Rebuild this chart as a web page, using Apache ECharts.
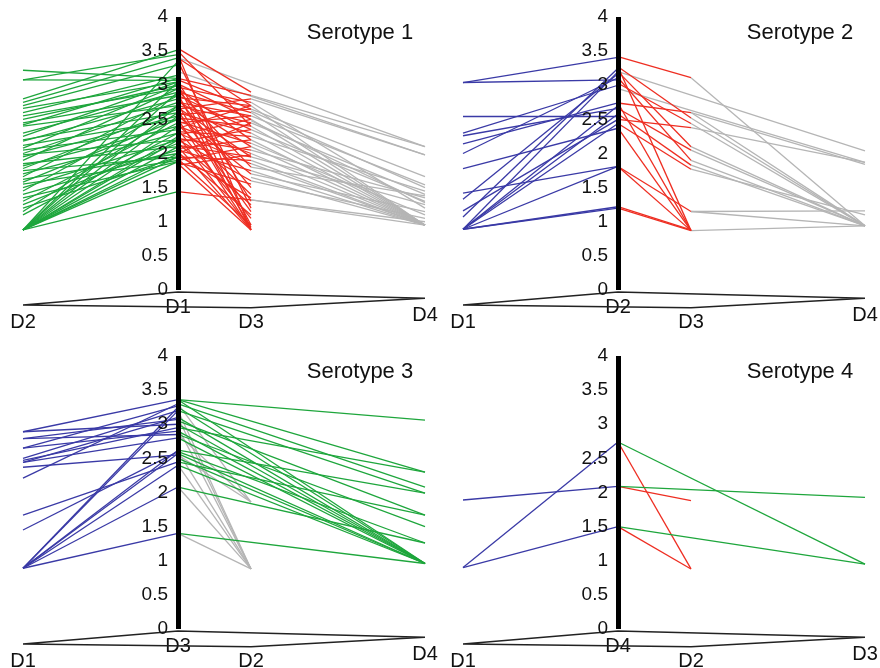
<!DOCTYPE html>
<html>
<head>
<meta charset="utf-8">
<script src="https://cdn.jsdelivr.net/npm/echarts@6/dist/echarts.min.js"></script>
<style>
  html, body { margin: 0; padding: 0; background: #fff; }
  #chart { width: 880px; height: 668px; }
</style>
</head>
<body>
<div id="chart"></div>
<script>
// Segment data: each pair is [value at start node, value at end node]
// Serotype 1
const s1Green = [[3.22, 3.10], [3.08, 3.07], [3.08, 3.45], [2.80, 3.52], [2.75, 3.40], [2.70, 3.30], [2.66, 3.05],
  [2.60, 3.15], [2.55, 2.95], [2.50, 3.00], [2.45, 2.85], [2.42, 3.10], [2.40, 2.70], [2.30, 2.90], [2.25, 3.05],
  [2.20, 2.60], [2.18, 2.80], [2.12, 2.50], [2.08, 3.00], [2.05, 2.35], [2.00, 2.75], [1.98, 2.20], [1.95, 2.55],
  [1.90, 2.95], [1.85, 2.10], [1.82, 2.40], [1.78, 2.65], [1.75, 1.95], [1.70, 2.30], [1.66, 2.85], [1.62, 2.00],
  [1.58, 2.50], [1.55, 1.90], [1.50, 2.20], [1.45, 2.70], [1.40, 2.05], [1.35, 1.88], [1.30, 2.45], [1.25, 2.15],
  [1.20, 1.95], [1.15, 2.60], [1.10, 2.30], [0.88, 1.44], [0.88, 1.88], [0.88, 2.00], [0.88, 2.10], [0.88, 2.25],
  [0.88, 2.40], [0.88, 2.55], [0.88, 2.70], [0.88, 2.90], [0.88, 3.05], [0.88, 3.35], [0.88, 1.95], [0.88, 2.20]]
const s1Red = [[3.54, 2.90], [3.50, 2.40], [3.45, 0.88], [3.40, 2.70], [3.35, 1.20], [3.10, 2.85], [3.08, 2.65],
  [3.05, 1.30], [3.02, 2.50], [3.00, 0.95], [2.97, 2.75], [2.95, 2.20], [2.92, 1.80], [2.90, 2.60], [2.87, 0.88],
  [2.85, 2.35], [2.82, 2.70], [2.80, 1.50], [2.77, 2.10], [2.75, 2.55], [2.72, 0.92], [2.70, 2.45], [2.67, 1.95],
  [2.65, 2.80], [2.62, 1.15], [2.60, 2.30], [2.57, 2.65], [2.55, 1.70], [2.52, 2.40], [2.50, 0.88], [2.47, 2.15],
  [2.45, 2.55], [2.42, 1.40], [2.40, 2.00], [2.37, 2.70], [2.35, 1.05], [2.32, 2.25], [2.30, 1.85], [2.27, 2.50],
  [2.25, 0.90], [2.22, 2.05], [2.20, 1.60], [2.17, 2.35], [2.15, 1.25], [2.12, 1.95], [2.10, 0.88], [2.07, 2.20],
  [2.05, 1.75], [2.02, 1.10], [2.00, 2.45], [1.97, 1.35], [1.95, 1.90], [1.92, 0.95], [1.90, 2.10], [1.87, 1.55],
  [1.85, 0.88], [1.83, 1.98], [1.44, 1.32]]
const s1Gray = [[2.85, 2.10], [2.80, 1.98], [2.75, 1.20], [2.70, 0.95], [2.65, 1.66], [2.60, 0.95], [2.55, 1.54],
  [2.50, 0.95], [2.45, 1.40], [2.40, 0.95], [2.35, 1.30], [2.30, 0.95], [2.25, 1.45], [2.20, 0.95], [2.15, 1.10],
  [2.10, 0.95], [2.05, 1.35], [2.00, 0.95], [1.95, 1.25], [1.90, 0.95], [1.85, 0.95], [1.80, 1.38], [1.75, 0.95],
  [1.70, 1.15], [1.65, 0.95], [1.60, 1.05], [1.32, 1.00], [1.32, 0.95], [2.62, 1.50], [2.48, 1.28]]
const s1GrayAxis = [[3.40, 2.10], [3.20, 1.98]]

// Serotype 2
const s2Blue = [[3.04, 3.41], [3.04, 3.08], [2.54, 2.54], [2.30, 3.00], [2.26, 2.66], [2.14, 2.74], [2.00, 3.11],
  [1.78, 2.37], [1.42, 1.81], [1.33, 3.17], [1.16, 2.50], [1.07, 3.25], [0.89, 3.20], [0.89, 2.58], [0.89, 2.44],
  [0.89, 1.81], [0.89, 1.20], [0.89, 1.22], [0.89, 2.70]]
const s2Red = [[3.42, 3.11], [3.27, 2.52], [3.27, 0.87], [3.20, 2.10], [3.11, 1.90], [3.03, 2.44], [2.74, 2.60],
  [2.74, 0.87], [2.66, 2.05], [2.58, 1.83], [2.50, 2.38], [2.44, 1.77], [2.37, 0.87], [1.81, 0.87], [1.81, 1.15],
  [1.20, 0.87], [1.22, 0.88]]
const s2Gray = [[3.11, 0.94], [2.60, 1.84], [2.52, 0.94], [2.44, 0.94], [2.38, 1.87], [2.10, 0.94], [2.05, 0.94],
  [1.90, 0.94], [1.83, 0.94], [1.77, 1.10], [1.15, 1.16], [1.15, 0.94], [0.87, 0.94], [2.60, 0.94]]
const s2GrayAxis = [[3.20, 2.04], [2.95, 1.87]]

// Serotype 3
const s3Blue = [[2.89, 3.00], [2.89, 3.36], [2.79, 3.07], [2.79, 2.85], [2.65, 3.27], [2.65, 2.90], [2.50, 3.20],
  [2.47, 2.95], [2.44, 3.10], [2.44, 2.80], [2.37, 2.55], [2.21, 3.30], [1.67, 2.45], [1.45, 2.60], [0.89, 3.25],
  [0.89, 3.20], [0.89, 2.62], [0.89, 2.57], [0.89, 2.08], [0.89, 1.40], [0.89, 2.40]]
const s3Gray = [[3.30, 1.86], [3.10, 0.88], [2.95, 0.88], [2.85, 1.86], [2.60, 0.88], [2.55, 1.86], [2.40, 0.88],
  [2.08, 0.88], [1.40, 0.88], [3.20, 0.88]]
const s3Green = [[3.36, 3.06], [3.36, 2.30], [3.36, 0.96], [3.30, 2.08], [3.25, 0.96], [3.20, 1.99], [3.10, 0.96],
  [3.05, 1.67], [3.00, 0.96], [2.95, 2.30], [2.90, 0.96], [2.85, 1.50], [2.80, 0.96], [2.60, 1.26], [2.57, 0.96],
  [2.50, 0.96], [2.45, 1.67], [2.40, 0.96], [2.08, 1.26], [1.40, 0.96], [2.62, 1.99]]

// Serotype 4
const s4Blue = [[1.89, 2.09], [0.90, 2.74], [0.90, 1.50]]
const s4Red = [[2.74, 0.88], [2.09, 1.88], [1.50, 0.88]]
const s4Green = [[2.74, 0.95], [2.09, 1.93], [1.50, 0.95]]

// Node names, in order: left end, vertical axis, middle, right end
const p1Nodes = ['D2', 'D1', 'D3', 'D4']
const p2Nodes = ['D1', 'D2', 'D3', 'D4']
const p3Nodes = ['D1', 'D3', 'D2', 'D4']
const p4Nodes = ['D1', 'D4', 'D2', 'D3']
const titles = ['Serotype 1', 'Serotype 2', 'Serotype 3', 'Serotype 4']

// Layout: horizontal node positions (px from the vertical axis) and perspective base
const POS = { L: -155, A: 0, M: 73, R: 247 }
const BASE = { L: -0.22, A: -0.03, M: -0.26, R: -0.12 }
const LABEL_Y = { L: -0.47, A: -0.25, M: -0.48, R: -0.37 }
const GREEN = '#1ea63c'
const RED = '#ee2e22'
const GRAY = '#b5b5b5'
const BLUE = '#3a3aa6'
const FONT = 'Liberation Sans, Arial, sans-serif'

const panels = [
  { left: 23, top: 17, nodes: p1Nodes, groups: [
    { from: 'L', to: 'A', color: GREEN, data: s1Green },
    { from: 'M', to: 'R', color: GRAY, data: s1Gray },
    { from: 'A', to: 'R', color: GRAY, data: s1GrayAxis },
    { from: 'A', to: 'M', color: RED, data: s1Red }] },
  { left: 463, top: 17, nodes: p2Nodes, groups: [
    { from: 'L', to: 'A', color: BLUE, data: s2Blue },
    { from: 'M', to: 'R', color: GRAY, data: s2Gray },
    { from: 'A', to: 'R', color: GRAY, data: s2GrayAxis },
    { from: 'A', to: 'M', color: RED, data: s2Red }] },
  { left: 23, top: 356, nodes: p3Nodes, groups: [
    { from: 'L', to: 'A', color: BLUE, data: s3Blue },
    { from: 'A', to: 'M', color: GRAY, data: s3Gray },
    { from: 'A', to: 'R', color: GREEN, data: s3Green }] },
  { left: 463, top: 356, nodes: p4Nodes, groups: [
    { from: 'L', to: 'A', color: BLUE, data: s4Blue },
    { from: 'A', to: 'M', color: RED, data: s4Red },
    { from: 'A', to: 'R', color: GREEN, data: s4Green }] }
]

const grid = [], xAxis = [], yAxis = [], series = [], graphic = []

panels.forEach((p, i) => {
  grid.push({ left: p.left, top: p.top, width: POS.R - POS.L, height: 273, containLabel: false, outerBoundsMode: 'none' })
  xAxis.push({
    gridIndex: i, type: 'value', min: POS.L, max: POS.R,
    axisLine: { show: false }, axisTick: { show: false }, axisLabel: { show: false }, splitLine: { show: false }
  })
  // the vertical axis sits at x = 0, pushed inward from the grid's left edge
  yAxis.push({
    gridIndex: i, type: 'value', min: 0, max: 4, interval: 0.5, z: 5,
    position: 'left', offset: POS.L,
    axisLine: { show: true, onZero: false, lineStyle: { color: '#000', width: 5, cap: 'butt' } },
    axisTick: { show: false },
    splitLine: { show: false },
    axisLabel: { color: '#111', fontSize: 19, fontFamily: FONT, margin: 10 }
  })

  // perspective base outline
  const keys = ['L', 'A', 'R', 'M', 'L']
  series.push({
    type: 'line', xAxisIndex: i, yAxisIndex: i, clip: false, symbol: 'none', silent: true,
    lineStyle: { color: '#222', width: 1.4 },
    data: keys.map(k => [POS[k], BASE[k]])
  })

  p.groups.forEach(g => {
    series.push({
      type: 'lines', coordinateSystem: 'cartesian2d', xAxisIndex: i, yAxisIndex: i, silent: true,
      lineStyle: { color: g.color, width: 1.3, opacity: 1, curveness: 0 },
      data: g.data.map(d => ({ coords: [[POS[g.from], d[0]], [POS[g.to], d[1]]] }))
    })
  })

  // node names under the base
  series.push({
    type: 'scatter', xAxisIndex: i, yAxisIndex: i, clip: false, silent: true, symbolSize: 0,
    itemStyle: { color: 'rgba(0,0,0,0)' },
    label: {
      show: true, position: 'inside', formatter: '{b}', color: '#111', fontSize: 20, fontFamily: FONT,
      textBorderWidth: 0, opacity: 1
    },
    data: ['L', 'A', 'M', 'R'].map((k, j) => ({ name: p.nodes[j], value: [POS[k], LABEL_Y[k]] }))
  })

  graphic.push({
    type: 'text', x: p.left + 337, y: p.top + 16,
    style: { text: titles[i], font: '22px ' + FONT, fill: '#111', textAlign: 'center', textVerticalAlign: 'middle' }
  })
})

const chart = echarts.init(document.getElementById('chart'))
chart.setOption({ animation: false, grid, xAxis, yAxis, series, graphic })
</script>
</body>
</html>
